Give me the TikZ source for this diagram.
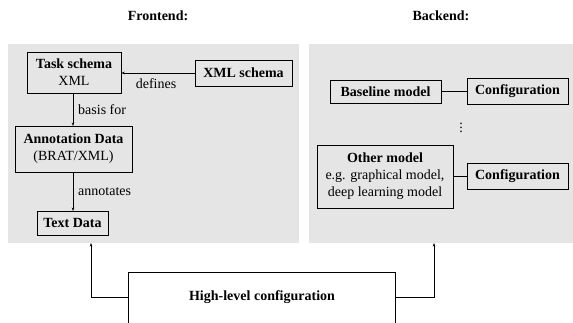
\documentclass[tikz,border=0pt]{standalone}
\usepackage{fontspec}
\setmainfont{Liberation Serif}
\usetikzlibrary{arrows.meta}
\tikzset{
  panel/.style={fill=black!10, draw=none, inner sep=0pt},
  box/.style={draw, line width=0.8pt, inner sep=0pt, align=center, font=\fontsize{14}{17}\selectfont},
  lbl/.style={font=\fontsize{14}{17}\selectfont, inner sep=0pt},
  conn/.style={line width=0.7pt, -{Stealth[length=3.5pt,width=2.6pt]}},
  link/.style={line width=0.7pt}
}
\begin{document}
\begin{tikzpicture}[x=1pt,y=-1pt]
\useasboundingbox (0,0) rectangle (573,323);
\clip (0,0) rectangle (573,323);
% titles
\node[lbl, font=\fontsize{14}{17}\selectfont\bfseries] (fe) at (158,16) {Frontend:};
\node[lbl, font=\fontsize{14}{17}\selectfont\bfseries] (be) at (441,16) {Backend:};
% panels
\node[panel, minimum width=291pt, minimum height=199pt] (lp) at (153.5,143.5) {};
\node[panel, minimum width=265pt, minimum height=199pt] (rp) at (441.5,143.5) {};
% frontend boxes
\node[box, minimum width=94pt, minimum height=41pt] (task) at (74,72.5) {\textbf{Task schema}\\XML};
\node[box, minimum width=97pt, minimum height=26pt] (xml) at (243.5,73) {\textbf{XML schema}};
\node[box, minimum width=117pt, minimum height=46pt] (ann) at (73.5,149) {\textbf{Annotation Data}\\(BRAT/XML)};
\node[box, minimum width=71pt, minimum height=24pt] (txt) at (72.5,223) {\textbf{Text Data}};
\draw[conn] (xml.west) -- (task.east |- xml.west);
\node[lbl] (ldef) at (156,84) {defines};
\draw[conn] (73,93) coordinate (t1) -- (73,126) coordinate (t2);
\node[lbl, anchor=west] (lbas) at (78,110) {basis for};
\draw[conn] (73,172) coordinate (a1) -- (73,211) coordinate (a2);
\node[lbl, anchor=west] (lann) at (78,192) {annotates};
% backend boxes
\node[box, minimum width=111pt, minimum height=23pt] (base) at (385.5,91.5) {\textbf{Baseline model}};
\node[box, minimum width=101pt, minimum height=26pt] (cfg1) at (517.5,91.5) {\textbf{Configuration}};
\node[box, minimum width=136pt, minimum height=63pt] (other) at (385,176.5) {\textbf{Other model}\\e.g. graphical model,\\deep learning model};
\node[box, minimum width=101pt, minimum height=26pt] (cfg2) at (517.5,176.5) {\textbf{Configuration}};
\draw[link] (base.east) -- (cfg1.west);
\draw[link] (other.east |- cfg2.west) -- (cfg2.west);
\node[lbl] (dots) at (461,125) {$\vdots$};
% high-level configuration
\node[inner sep=0pt, minimum width=266pt, minimum height=48pt, font=\fontsize{14}{17}\selectfont\bfseries] (hl) at (262,297) {High-level configuration};
\draw[line width=0.8pt] ([yshift=-20pt]hl.south west) -- (hl.north west) -- (hl.north east) -- ([yshift=-20pt]hl.south east);
\draw[conn] (hl.west) -| (91,243);
\draw[conn] (hl.east) -| (434,243);
\end{tikzpicture}
\end{document}
